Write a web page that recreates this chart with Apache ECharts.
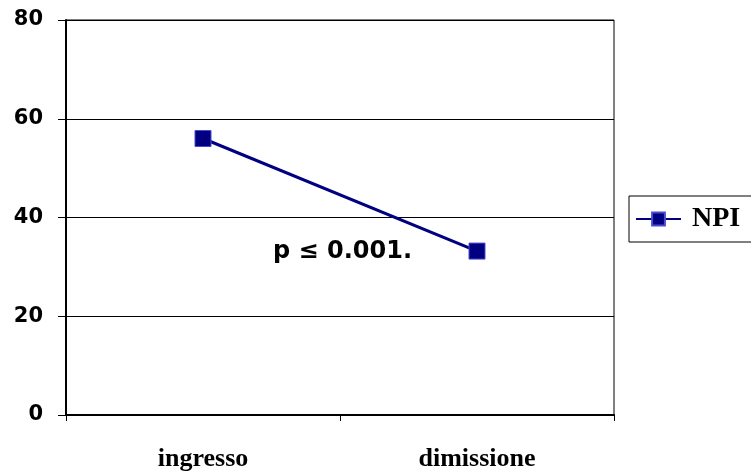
<!DOCTYPE html>
<html><head><meta charset="utf-8">
<script src="https://cdn.jsdelivr.net/npm/echarts@6/dist/echarts.min.js"></script>
<style>html,body{margin:0;padding:0;background:#fff}#c{width:751px;height:474px}</style>
</head><body><div id="c"></div>
<script>
const categories = ['ingresso', 'dimissione'];
const npiValues = [56, 33.2];
const yTicks = [0, 20, 40, 60, 80];
const seriesName = 'NPI';
const annotation = 'p \u2264 0.001.';

const chart = echarts.init(document.getElementById('c'));
chart.setOption({
  animation: false,
  backgroundColor: '#fff',
  grid: { left: 66, right: 137, top: 20, bottom: 59, show: true, borderColor: '#000', borderWidth: 1 },
  xAxis: {
    type: 'category', data: categories, boundaryGap: true,
    axisLine: { lineStyle: { color: '#000', width: 2 } },
    axisTick: { show: true, length: 6, lineStyle: { color: '#000', width: 1 } },
    axisLabel: { margin: 31, color: '#000', fontFamily: 'Liberation Serif', fontWeight: 'bold', fontSize: 26 }
  },
  yAxis: {
    type: 'value', min: yTicks[0], max: yTicks[yTicks.length - 1], interval: 20,
    axisLine: { show: true, lineStyle: { color: '#000', width: 2 } },
    axisTick: { show: true, length: 8, lineStyle: { color: '#000' } },
    splitLine: { lineStyle: { color: '#000', width: 1 } },
    axisLabel: { margin: 23, color: '#000', fontFamily: 'DejaVu Sans', fontWeight: 'bold', fontSize: 21 }
  },
  legend: {
    left: 629, top: 196, orient: 'vertical',
    borderColor: '#000', borderWidth: 1, padding: [9, 40, 9, 6],
    itemWidth: 45, itemHeight: 16, itemGap: 0,
    textStyle: { color: '#000', fontFamily: 'Liberation Serif', fontWeight: 'bold', fontSize: 28, padding: [0, 0, 0, 6] },
    data: [seriesName]
  },
  series: [{
    name: seriesName, type: 'line', data: npiValues,
    symbol: 'rect', symbolSize: 16,
    lineStyle: { color: '#000080', width: 3 },
    itemStyle: { color: '#000080', borderColor: '#4a4ad0', borderWidth: 1 }
  }],
  graphic: [{
    type: 'text', left: 273, top: 240,
    style: { text: annotation, fill: '#000', font: 'bold 24px "DejaVu Sans"' }
  }]
});
</script></body></html>
